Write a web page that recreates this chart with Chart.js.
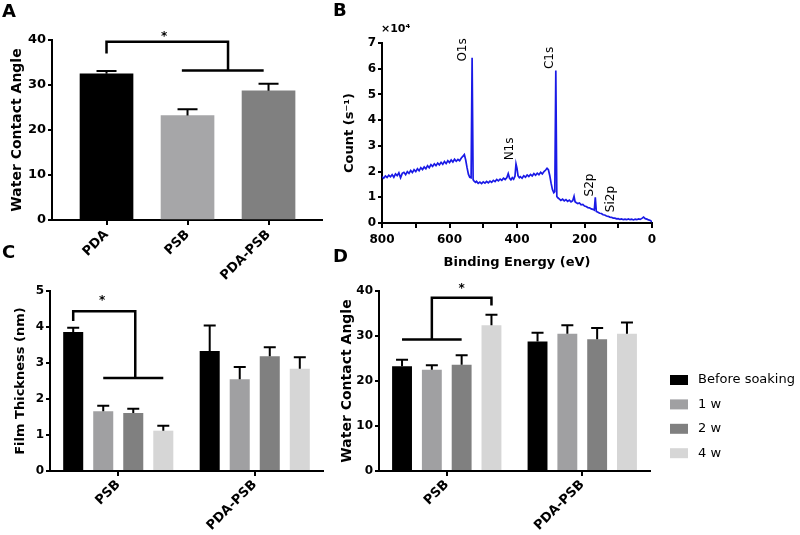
<!DOCTYPE html>
<html><head><meta charset="utf-8">
<script src="https://cdn.jsdelivr.net/npm/chart.js@4/dist/chart.umd.min.js"></script>
<style>
html,body{margin:0;padding:0;background:#fff;}
#wrap{position:relative;width:800px;height:535px;overflow:hidden;background:#fff;}
.pane{position:absolute;}
.pane canvas{display:block;}
.lbl{position:absolute;font:bold 18px "DejaVu Sans",sans-serif;line-height:18px;color:#000;}
</style></head><body>
<div id="wrap">
  <div class="pane" style="left:0;top:0"><canvas id="cA" width="330" height="285"></canvas></div>
  <div class="pane" style="left:340px;top:0"><canvas id="cB" width="330" height="270"></canvas></div>
  <div class="pane" style="left:0;top:270px"><canvas id="cC" width="330" height="265"></canvas></div>
  <div class="pane" style="left:330px;top:270px"><canvas id="cD" width="470" height="265"></canvas></div>
  <div class="lbl" style="left:2px;top:2px">A</div>
  <div class="lbl" style="left:333px;top:1px">B</div>
  <div class="lbl" style="left:2px;top:243px">C</div>
  <div class="lbl" style="left:333px;top:247px">D</div>
</div>
<script>
// ---------- Panel A data ----------
const catA = ['PDA', 'PSB', 'PDA-PSB'];
const valA = [32.5, 23.2, 28.7];
const errA = [0.6, 1.4, 1.6];
const colA = ['#000000', '#a6a6a8', '#808080'];

// ---------- Panel B data (XPS survey) ----------
const energyB = [800,795,790,785,780,775,770,765,760,755,750,745,740,735,730,725,720,715,710,705,700,695,690,685,680,675,670,665,660,655,650,645,640,635,630,625,620,615,610,605,600,595,590,585,580,575,570,565,560,556,552,548,544,540,536,533,530,527,523,520,515,510,505,500,495,490,485,480,475,470,465,460,455,450,445,440,435,430,426,422,418,414,410,406,403,400,397,393,390,385,380,375,370,365,360,355,350,345,340,335,330,325,320,315,311,307,303,299,295,291,288,285,282,279,275,270,265,260,255,250,245,240,235,231,228,224,220,215,210,205,200,195,190,185,180,175,171,168,165,160,155,150,145,140,135,130,125,120,115,110,105,100,95,90,85,80,75,70,65,60,55,50,45,40,35,30,25,20,15,10,5,0];
const countB = [1.80,1.74,1.83,1.77,1.86,1.80,1.88,1.78,1.91,1.84,1.95,1.76,1.93,1.97,1.88,2.00,1.93,2.04,1.96,2.07,2.00,2.11,2.03,2.15,2.08,2.18,2.11,2.23,2.15,2.27,2.20,2.30,2.23,2.33,2.26,2.36,2.28,2.39,2.31,2.42,2.35,2.45,2.37,2.48,2.40,2.47,2.42,2.53,2.60,2.66,2.45,2.15,1.90,1.78,1.76,6.43,1.68,1.63,1.58,1.62,1.54,1.59,1.53,1.60,1.55,1.62,1.56,1.63,1.58,1.66,1.61,1.69,1.64,1.71,1.66,1.74,1.69,1.77,1.92,1.74,1.68,1.76,1.70,1.82,2.30,2.12,1.84,1.76,1.80,1.74,1.84,1.78,1.87,1.81,1.89,1.83,1.92,1.86,1.94,1.88,1.97,1.91,2.00,2.06,2.13,2.07,1.85,1.55,1.30,1.18,1.22,5.93,1.03,0.98,0.94,0.88,0.93,0.86,0.91,0.84,0.89,0.82,0.87,1.04,0.83,0.79,0.76,0.78,0.71,0.72,0.66,0.64,0.60,0.59,0.55,0.53,0.50,1.00,0.45,0.42,0.38,0.37,0.32,0.31,0.27,0.26,0.23,0.22,0.19,0.19,0.16,0.17,0.14,0.16,0.13,0.15,0.13,0.16,0.13,0.15,0.12,0.15,0.13,0.16,0.14,0.18,0.23,0.17,0.15,0.12,0.10,0.04];
const peakNames = ['O1s', 'N1s', 'C1s', 'S2p', 'Si2p'];
const ticksBX = [0, 200, 400, 600, 800];

// ---------- Panels C & D data ----------
const catCD = ['PSB', 'PDA-PSB'];
const seriesLabels = ['Before soaking', '1 w', '2 w', '4 w'];
const seriesColors = ['#000000', '#a0a0a2', '#808080', '#d6d6d6'];
const thickC = [[3.86, 3.33], [1.66, 2.55], [1.61, 3.19], [1.12, 2.84]];
const thickErrC = [[0.12, 0.71], [0.15, 0.34], [0.12, 0.25], [0.14, 0.32]];
const angleD = [[23.3, 28.8], [22.5, 30.5], [23.6, 29.3], [32.4, 30.5]];
const angleErrD = [[1.4, 1.9], [1.0, 1.9], [2.1, 2.5], [2.3, 2.5]];

// ---------- common ----------
Chart.defaults.font.family = '"DejaVu Sans", sans-serif';
Chart.defaults.color = '#000';
Chart.defaults.animation = false;
const FF = '"DejaVu Sans", sans-serif';

function gridStyle(tl) {
  return { drawOnChartArea: false, drawTicks: true, tickLength: tl, color: '#000', lineWidth: 2, offset: false };
}
const borderStyle = { display: true, color: '#000', width: 2 };

const errPlugin = {
  id: 'errbars',
  afterDatasetsDraw(chart, args, opts) {
    const ctx = chart.ctx, ys = chart.scales.y;
    ctx.save();
    ctx.strokeStyle = '#000';
    ctx.lineWidth = 2;
    chart.data.datasets.forEach((ds, i) => {
      if (!ds.err) return;
      const meta = chart.getDatasetMeta(i);
      meta.data.forEach((bar, j) => {
        const top = ys.getPixelForValue(ds.vals[j] + ds.err[j]);
        ctx.beginPath();
        ctx.moveTo(bar.x, bar.y);
        ctx.lineTo(bar.x, top);
        ctx.moveTo(bar.x - opts.cap / 2, top);
        ctx.lineTo(bar.x + opts.cap / 2, top);
        ctx.stroke();
      });
    });
    ctx.restore();
  }
};
Chart.register(errPlugin);

function star(ctx, x, y) {
  ctx.save();
  ctx.fillStyle = '#000';
  ctx.font = 'bold 12px ' + FF;
  ctx.textAlign = 'center';
  ctx.textBaseline = 'middle';
  ctx.fillText('*', x, y + 3);
  ctx.restore();
}

// ---------- Panel A ----------
new Chart(document.getElementById('cA'), {
  type: 'bar',
  data: {
    datasets: [{
      data: catA.map((c, i) => ({ x: i, y: valA[i] })),
      vals: valA, err: errA,
      backgroundColor: colA, borderWidth: 0, barThickness: 53
    }]
  },
  options: {
    responsive: false,
    layout: { padding: { left: 0, top: 40, right: 8, bottom: 0 } },
    plugins: { legend: { display: false }, tooltip: { enabled: false }, errbars: { cap: 20 } },
    scales: {
      x: {
        type: 'linear', min: -0.673, max: 2.66, offset: false,
        afterBuildTicks: s => { s.ticks = catA.map((c, i) => ({ value: i })); },
        afterFit: s => { s.height = 65; },
        ticks: { callback: v => catA[v], minRotation: 45, maxRotation: 45, autoSkip: false,
                 font: { weight: 'bold', size: 13 }, padding: 2, color: '#000' },
        grid: gridStyle(5), border: borderStyle
      },
      y: {
        min: 0, max: 40,
        afterFit: s => { s.width = 52; },
        ticks: { stepSize: 10, font: { weight: 'bold', size: 13 }, padding: 2, color: '#000' },
        grid: gridStyle(4), border: borderStyle,
        title: { display: true, text: 'Water Contact Angle', font: { weight: 'bold', size: 14 }, padding: { top: 9, bottom: 0 }, color: '#000' }
      }
    }
  },
  plugins: [{
    id: 'bracketA',
    afterDraw(ch) {
      const x = ch.scales.x, y = ch.scales.y, c = ch.ctx;
      c.save();
      c.strokeStyle = '#000'; c.lineWidth = 2.5; c.lineCap = 'butt';
      c.beginPath();
      c.moveTo(x.getPixelForValue(0), y.getPixelForValue(37.0));
      c.lineTo(x.getPixelForValue(0), y.getPixelForValue(39.6));
      c.lineTo(x.getPixelForValue(1.5), y.getPixelForValue(39.6));
      c.lineTo(x.getPixelForValue(1.5), y.getPixelForValue(33.2));
      c.moveTo(x.getPixelForValue(0.93), y.getPixelForValue(33.2));
      c.lineTo(x.getPixelForValue(1.94), y.getPixelForValue(33.2));
      c.stroke();
      c.restore();
      star(c, x.getPixelForValue(0.71), y.getPixelForValue(41.4));
    }
  }]
});

// ---------- Panel B ----------
const peakAnchors = [[560, 6.73], [420.7, 2.88], [302, 6.42], [184, 1.48], [121.5, 0.93]];
new Chart(document.getElementById('cB'), {
  type: 'line',
  data: {
    datasets: [{
      data: energyB.map((e, i) => ({ x: e, y: countB[i] })),
      borderColor: '#1a1ae6', borderWidth: 1.7, pointRadius: 0, tension: 0, fill: false
    }]
  },
  options: {
    responsive: false,
    layout: { padding: { left: 0, top: 43, right: 18, bottom: 0 } },
    plugins: { legend: { display: false }, tooltip: { enabled: false } },
    scales: {
      x: {
        type: 'linear', reverse: true, min: 0, max: 800,
        afterFit: s => { s.height = 47; },
        ticks: { stepSize: 100, autoSkip: false, maxRotation: 0,
                 callback: v => ticksBX.includes(v) ? String(v) : '',
                 font: { weight: 'bold', size: 12 }, padding: 5, color: '#000' },
        grid: gridStyle(5), border: borderStyle,
        title: { display: true, text: 'Binding Energy (eV)', font: { weight: 'bold', size: 13 }, padding: { top: 0, bottom: 0 }, color: '#000' }
      },
      y: {
        min: 0, max: 7,
        afterFit: s => { s.width = 42; },
        ticks: { stepSize: 1, font: { weight: 'bold', size: 12 }, padding: 2, color: '#000' },
        grid: gridStyle(4), border: borderStyle,
        title: { display: true, text: 'Count (s\u207B\u00B9)', font: { weight: 'bold', size: 13 }, padding: { top: 2, bottom: 0 }, color: '#000' }
      }
    }
  },
  plugins: [{
    id: 'peaksB',
    afterDraw(ch) {
      const x = ch.scales.x, y = ch.scales.y, c = ch.ctx;
      c.save();
      c.fillStyle = '#000';
      c.font = '12px ' + FF;
      c.textAlign = 'center'; c.textBaseline = 'middle';
      peakNames.forEach((n, i) => {
        const px = x.getPixelForValue(peakAnchors[i][0]);
        const py = y.getPixelForValue(peakAnchors[i][1]);
        c.save(); c.translate(px, py); c.rotate(-Math.PI / 2); c.fillText(n, 0, 0); c.restore();
      });
      c.font = 'bold 11px ' + FF;
      c.textAlign = 'left'; c.textBaseline = 'alphabetic';
      c.fillText('\u00D710\u2074', ch.chartArea.left - 1, 32);
      c.restore();
    }
  }]
});

// ---------- helpers for grouped bars ----------
function groupedDatasets(vals, errs) {
  return seriesLabels.map((lab, i) => ({
    label: lab, data: vals[i], vals: vals[i], err: errs[i],
    backgroundColor: seriesColors[i], borderWidth: 0,
    categoryPercentage: 0.88, barPercentage: 0.667
  }));
}
function xGrouped() {
  return {
    afterFit: s => { s.height = 64; },
    ticks: { minRotation: 45, maxRotation: 45, autoSkip: false, font: { weight: 'bold', size: 13 }, padding: 1, color: '#000' },
    grid: gridStyle(5), border: borderStyle
  };
}

// ---------- Panel C ----------
new Chart(document.getElementById('cC'), {
  type: 'bar',
  data: { labels: catCD, datasets: groupedDatasets(thickC, thickErrC) },
  options: {
    responsive: false,
    layout: { padding: { left: 0, top: 21, right: 7, bottom: 0 } },
    plugins: { legend: { display: false }, tooltip: { enabled: false }, errbars: { cap: 12 } },
    scales: {
      x: xGrouped(),
      y: {
        min: 0, max: 5,
        afterFit: s => { s.width = 50; },
        ticks: { stepSize: 1, font: { weight: 'bold', size: 12 }, padding: 2, color: '#000' },
        grid: gridStyle(4), border: borderStyle,
        title: { display: true, text: 'Film Thickness (nm)', font: { weight: 'bold', size: 13 }, padding: { top: 13, bottom: 0 }, color: '#000' }
      }
    }
  },
  plugins: [{
    id: 'bracketC',
    afterDraw(ch) {
      const y = ch.scales.y, c = ch.ctx;
      const bx = i => ch.getDatasetMeta(i).data[0].x;
      c.save();
      c.strokeStyle = '#000'; c.lineWidth = 2.5;
      c.beginPath();
      c.moveTo(bx(0), y.getPixelForValue(4.17));
      c.lineTo(bx(0), y.getPixelForValue(4.44));
      c.lineTo(bx(2) + 2, y.getPixelForValue(4.44));
      c.lineTo(bx(2) + 2, y.getPixelForValue(2.58));
      c.moveTo(bx(1), y.getPixelForValue(2.58));
      c.lineTo(bx(3), y.getPixelForValue(2.58));
      c.stroke();
      c.restore();
      star(c, bx(1) - 1, y.getPixelForValue(4.81));
    }
  }]
});

// ---------- Panel D ----------
new Chart(document.getElementById('cD'), {
  type: 'bar',
  data: { labels: catCD, datasets: groupedDatasets(angleD, angleErrD) },
  options: {
    responsive: false,
    layout: { padding: { left: 0, top: 21, right: 150, bottom: 0 } },
    plugins: { legend: { display: false }, tooltip: { enabled: false }, errbars: { cap: 12 } },
    scales: {
      x: xGrouped(),
      y: {
        min: 0, max: 40,
        afterFit: s => { s.width = 49; },
        ticks: { stepSize: 10, font: { weight: 'bold', size: 12 }, padding: 2, color: '#000' },
        grid: gridStyle(4), border: borderStyle,
        title: { display: true, text: 'Water Contact Angle', font: { weight: 'bold', size: 14 }, padding: { top: 9, bottom: 0 }, color: '#000' }
      }
    }
  },
  plugins: [{
    id: 'bracketLegendD',
    afterDraw(ch) {
      const y = ch.scales.y, c = ch.ctx;
      const bx = i => ch.getDatasetMeta(i).data[0].x;
      c.save();
      c.strokeStyle = '#000'; c.lineWidth = 2.5;
      c.beginPath();
      c.moveTo(bx(0), y.getPixelForValue(29.2));
      c.lineTo(bx(2), y.getPixelForValue(29.2));
      c.moveTo(bx(1), y.getPixelForValue(29.2));
      c.lineTo(bx(1), y.getPixelForValue(38.5));
      c.lineTo(bx(3), y.getPixelForValue(38.5));
      c.lineTo(bx(3), y.getPixelForValue(36.8));
      c.stroke();
      c.restore();
      star(c, bx(2), y.getPixelForValue(41.2));
      // legend
      c.save();
      c.font = '13px ' + FF;
      c.textBaseline = 'middle'; c.textAlign = 'left';
      const lx = ch.chartArea.right + 20;
      ch.data.datasets.forEach((ds, i) => {
        const cy = 110 + i * 24.4;
        c.fillStyle = ds.backgroundColor;
        c.fillRect(lx, cy - 5, 18, 10);
        c.fillStyle = '#000';
        c.fillText(ds.label, lx + 28, cy);
      });
      c.restore();
    }
  }]
});
</script>
</body></html>
